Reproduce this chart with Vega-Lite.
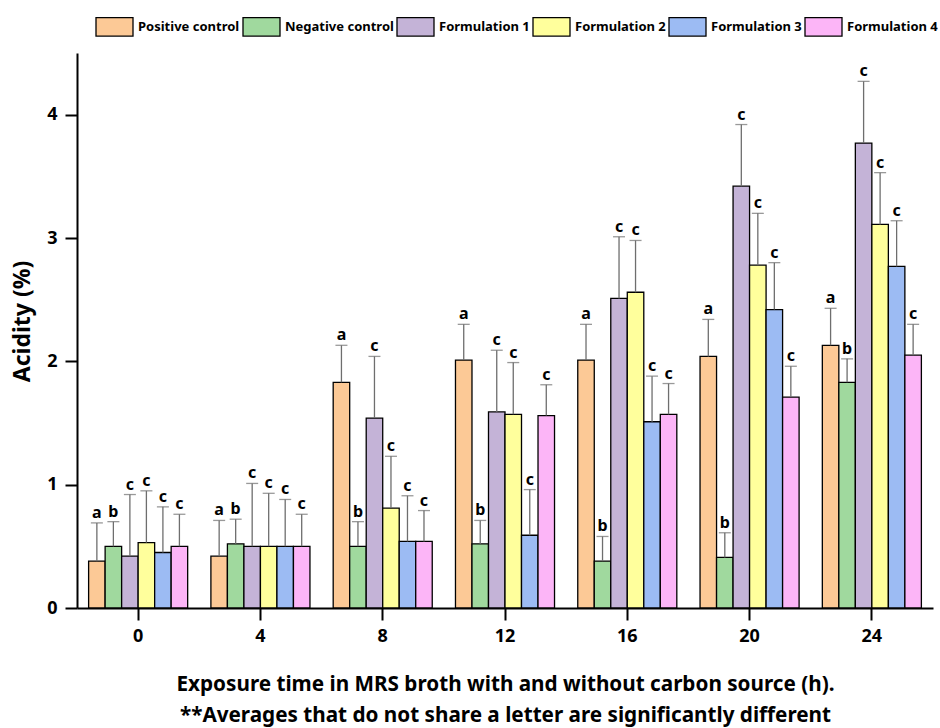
{
  "$schema": "https://vega.github.io/schema/vega-lite/v6.json",
  "width": 856,
  "height": 555,
  "autosize": "none",
  "padding": {"left": 77, "top": 53, "right": 7, "bottom": 120},
  "data": {
    "values": [
      {"time": 0, "group": "Positive control", "value": 0.38, "err": 0.69, "letter": "a"},
      {"time": 0, "group": "Negative control", "value": 0.50, "err": 0.70, "letter": "b"},
      {"time": 0, "group": "Formulation 1", "value": 0.42, "err": 0.92, "letter": "c"},
      {"time": 0, "group": "Formulation 2", "value": 0.53, "err": 0.95, "letter": "c"},
      {"time": 0, "group": "Formulation 3", "value": 0.45, "err": 0.82, "letter": "c"},
      {"time": 0, "group": "Formulation 4", "value": 0.50, "err": 0.76, "letter": "c"},
      {"time": 4, "group": "Positive control", "value": 0.42, "err": 0.71, "letter": "a"},
      {"time": 4, "group": "Negative control", "value": 0.52, "err": 0.72, "letter": "b"},
      {"time": 4, "group": "Formulation 1", "value": 0.50, "err": 1.01, "letter": "c"},
      {"time": 4, "group": "Formulation 2", "value": 0.50, "err": 0.93, "letter": "c"},
      {"time": 4, "group": "Formulation 3", "value": 0.50, "err": 0.88, "letter": "c"},
      {"time": 4, "group": "Formulation 4", "value": 0.50, "err": 0.76, "letter": "c"},
      {"time": 8, "group": "Positive control", "value": 1.83, "err": 2.13, "letter": "a"},
      {"time": 8, "group": "Negative control", "value": 0.50, "err": 0.70, "letter": "b"},
      {"time": 8, "group": "Formulation 1", "value": 1.54, "err": 2.04, "letter": "c"},
      {"time": 8, "group": "Formulation 2", "value": 0.81, "err": 1.23, "letter": "c"},
      {"time": 8, "group": "Formulation 3", "value": 0.54, "err": 0.91, "letter": "c"},
      {"time": 8, "group": "Formulation 4", "value": 0.54, "err": 0.79, "letter": "c"},
      {"time": 12, "group": "Positive control", "value": 2.01, "err": 2.30, "letter": "a"},
      {"time": 12, "group": "Negative control", "value": 0.52, "err": 0.71, "letter": "b"},
      {"time": 12, "group": "Formulation 1", "value": 1.59, "err": 2.09, "letter": "c"},
      {"time": 12, "group": "Formulation 2", "value": 1.57, "err": 1.99, "letter": "c"},
      {"time": 12, "group": "Formulation 3", "value": 0.59, "err": 0.96, "letter": "c"},
      {"time": 12, "group": "Formulation 4", "value": 1.56, "err": 1.81, "letter": "c"},
      {"time": 16, "group": "Positive control", "value": 2.01, "err": 2.30, "letter": "a"},
      {"time": 16, "group": "Negative control", "value": 0.38, "err": 0.58, "letter": "b"},
      {"time": 16, "group": "Formulation 1", "value": 2.51, "err": 3.01, "letter": "c"},
      {"time": 16, "group": "Formulation 2", "value": 2.56, "err": 2.98, "letter": "c"},
      {"time": 16, "group": "Formulation 3", "value": 1.51, "err": 1.88, "letter": "c"},
      {"time": 16, "group": "Formulation 4", "value": 1.57, "err": 1.82, "letter": "c"},
      {"time": 20, "group": "Positive control", "value": 2.04, "err": 2.34, "letter": "a"},
      {"time": 20, "group": "Negative control", "value": 0.41, "err": 0.61, "letter": "b"},
      {"time": 20, "group": "Formulation 1", "value": 3.42, "err": 3.92, "letter": "c"},
      {"time": 20, "group": "Formulation 2", "value": 2.78, "err": 3.20, "letter": "c"},
      {"time": 20, "group": "Formulation 3", "value": 2.42, "err": 2.80, "letter": "c"},
      {"time": 20, "group": "Formulation 4", "value": 1.71, "err": 1.96, "letter": "c"},
      {"time": 24, "group": "Positive control", "value": 2.13, "err": 2.43, "letter": "a"},
      {"time": 24, "group": "Negative control", "value": 1.83, "err": 2.02, "letter": "b"},
      {"time": 24, "group": "Formulation 1", "value": 3.77, "err": 4.27, "letter": "c"},
      {"time": 24, "group": "Formulation 2", "value": 3.11, "err": 3.53, "letter": "c"},
      {"time": 24, "group": "Formulation 3", "value": 2.77, "err": 3.14, "letter": "c"},
      {"time": 24, "group": "Formulation 4", "value": 2.05, "err": 2.30, "letter": "c"}
    ]
  },
  "encoding": {
    "x": {
      "field": "time",
      "type": "ordinal",
      "scale": {"paddingInner": 0.19, "paddingOuter": 0.095},
      "axis": {
        "labelAngle": 0,
        "tickSize": 12,
        "labelPadding": 7,
        "title": ["Exposure time in MRS broth with and without carbon source (h).", "**Averages that do not share a letter are significantly different"],
        "titleFontSize": 20.7,
        "titleFontWeight": "bold",
        "titlePadding": 29,
        "titleLineHeight": 31
      }
    },
    "xOffset": {
      "field": "group",
      "type": "nominal",
      "sort": ["Positive control", "Negative control", "Formulation 1", "Formulation 2", "Formulation 3", "Formulation 4"],
      "scale": {"paddingInner": 0, "paddingOuter": 0}
    },
    "y": {
      "field": "value",
      "type": "quantitative",
      "scale": {"domain": [0, 4.5], "nice": false},
      "axis": {
        "values": [0, 0.5, 1, 1.5, 2, 2.5, 3, 3.5, 4, 4.5],
        "format": "d",
        "labelExpr": "datum.value % 1 === 0 ? format(datum.value, 'd') : ''",
        "tickSize": {"condition": {"test": "datum.value % 1 !== 0", "value": 6}, "value": 12},
        "title": "Acidity (%)",
        "titleFontSize": 23,
        "titleFontWeight": "bold",
        "titlePadding": 12,
        "titleY": 268,
        "labelPadding": 8,
        "grid": false
      }
    }
  },
  "layer": [
    {
      "mark": {"type": "bar", "stroke": "black", "strokeWidth": 1.3},
      "encoding": {
        "fill": {
          "field": "group",
          "type": "nominal",
          "scale": {
            "domain": ["Positive control", "Negative control", "Formulation 1", "Formulation 2", "Formulation 3", "Formulation 4"],
            "range": ["#FCC996", "#A0D99E", "#C4B3D7", "#FFFF9C", "#9CBBF3", "#FCB5F7"]
          },
          "legend": {
            "title": null,
            "orient": "none",
            "legendX": 18,
            "legendY": -46,
            "direction": "horizontal",
            "symbolType": "M-1,-0.5H1V0.5H-1Z",
            "symbolSize": 1369,
            "symbolStrokeColor": "black",
            "symbolStrokeWidth": 1.3,
            "symbolOpacity": 1,
            "labelFont": "Noto Sans",
            "labelFontSize": 13,
            "labelFontWeight": "bold",
            "labelColor": "black",
            "labelOffset": 4,
            "columnPadding": 0
          }
        }
      }
    },
    {
      "mark": {"type": "rule", "color": "#6e6e6e", "strokeWidth": 1.3},
      "encoding": {
        "y2": {"field": "err"}
      }
    },
    {
      "mark": {"type": "tick", "color": "#6e6e6e", "thickness": 1.3, "size": 12, "orient": "horizontal"},
      "encoding": {
        "y": {"field": "err", "type": "quantitative", "title": "Acidity (%)"}
      }
    },
    {
      "mark": {"type": "text", "baseline": "alphabetic", "dy": -5, "font": "Noto Sans", "fontSize": 16, "fontWeight": "bold", "color": "black"},
      "encoding": {
        "y": {"field": "err", "type": "quantitative", "title": "Acidity (%)"},
        "text": {"field": "letter"}
      }
    }
  ],
  "config": {
    "view": {"stroke": null},
    "font": "Noto Sans",
    "axis": {
      "labelFont": "Noto Sans",
      "labelFontSize": 18,
      "labelFontWeight": "bold",
      "labelColor": "black",
      "titleFont": "Noto Sans",
      "titleColor": "black",
      "domainColor": "black",
      "domainWidth": 2,
      "tickColor": "black",
      "tickWidth": 2,
      "grid": false
    }
  }
}
